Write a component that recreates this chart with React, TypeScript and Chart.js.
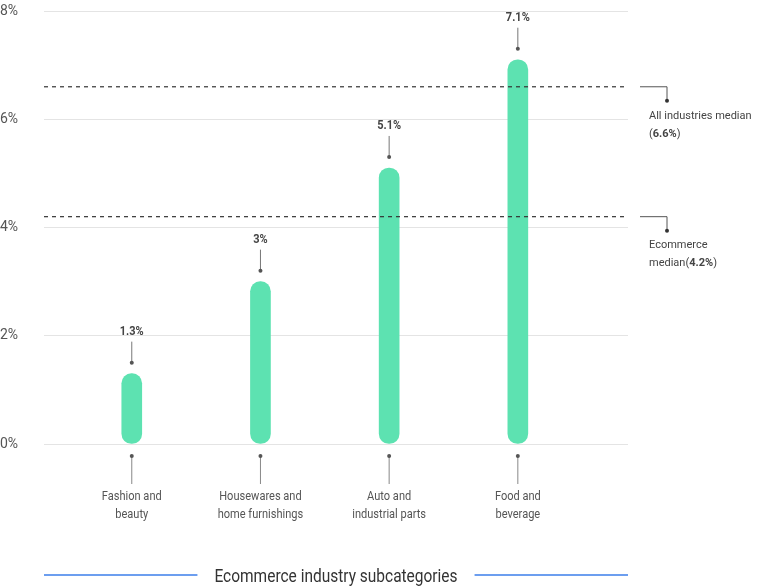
import React, { useEffect, useRef } from "react";
import { Chart, registerables } from "chart.js";

Chart.register(...registerables);

const categories: string[][] = [
  ["Fashion and", "beauty"],
  ["Housewares and", "home furnishings"],
  ["Auto and", "industrial parts"],
  ["Food and", "beverage"],
];
const values: number[] = [1.3, 3, 5.1, 7.1];
const valueLabels: string[] = ["1.3%", "3%", "5.1%", "7.1%"];
const medianValues: number[] = [6.6, 4.2];
const medianLine1: string[] = ["All industries median", "Ecommerce"];
const medianLine2Pre: string[] = ["(", "median("];
const medianLine2Bold: string[] = ["6.6%", "4.2%"];
const medianLine2Post: string[] = [")", ")"];
const yTicks: number[] = [0, 2, 4, 6, 8];
const axisTitle = "Ecommerce industry subcategories";

const FONT = "Roboto, 'Noto Sans', sans-serif";

function condensedText(ctx: CanvasRenderingContext2D, text: string, x: number, y: number, sx: number) {
  ctx.save();
  ctx.translate(x, y);
  ctx.scale(sx, 1);
  ctx.fillText(text, 0, 0);
  ctx.restore();
}

const overlayPlugin = {
  id: "overlay",
  afterDatasetsDraw(chart: any) {
    const ctx: CanvasRenderingContext2D = chart.ctx;
    const area = chart.chartArea;
    const yScale = chart.scales.y;
    const meta = chart.getDatasetMeta(0);
    ctx.save();

    meta.data.forEach((el: any, i: number) => {
      const x = el.x;
      const top = el.y;
      ctx.strokeStyle = "#777";
      ctx.lineWidth = 1;
      ctx.beginPath();
      ctx.moveTo(x, top - 32);
      ctx.lineTo(x, top - 11);
      ctx.stroke();
      ctx.fillStyle = "#555";
      ctx.beginPath();
      ctx.arc(x, top - 11, 2, 0, Math.PI * 2);
      ctx.fill();
      ctx.fillStyle = "#444";
      ctx.font = `bold 12.5px ${FONT}`;
      ctx.textAlign = "center";
      ctx.textBaseline = "middle";
      condensedText(ctx, valueLabels[i], x, top - 42, 0.88);

      const base = area.bottom;
      ctx.strokeStyle = "#888";
      ctx.beginPath();
      ctx.moveTo(x, base + 12);
      ctx.lineTo(x, base + 40);
      ctx.stroke();
      ctx.fillStyle = "#555";
      ctx.beginPath();
      ctx.arc(x, base + 12, 2, 0, Math.PI * 2);
      ctx.fill();
      ctx.fillStyle = "#555";
      ctx.font = `13px ${FONT}`;
      categories[i].forEach((line, j) => {
        condensedText(ctx, line, x, base + 53 + j * 18, 0.85);
      });
    });

    medianValues.forEach((v, i) => {
      const y = yScale.getPixelForValue(v);
      ctx.strokeStyle = "#333";
      ctx.lineWidth = 1.2;
      ctx.setLineDash([4, 4]);
      ctx.beginPath();
      ctx.moveTo(area.left, y);
      ctx.lineTo(area.right, y);
      ctx.stroke();
      ctx.setLineDash([]);
      ctx.strokeStyle = "#555";
      ctx.lineWidth = 1;
      const cx = area.right + 39;
      ctx.beginPath();
      ctx.moveTo(area.right + 12, y);
      ctx.lineTo(cx, y);
      ctx.lineTo(cx, y + 14);
      ctx.stroke();
      ctx.fillStyle = "#333";
      ctx.beginPath();
      ctx.arc(cx, y + 14, 2, 0, Math.PI * 2);
      ctx.fill();
      ctx.fillStyle = "#444";
      ctx.textAlign = "left";
      ctx.textBaseline = "middle";
      const tx = area.right + 21;
      ctx.font = `11px ${FONT}`;
      ctx.fillText(medianLine1[i], tx, y + 29);
      let px = tx;
      ctx.fillText(medianLine2Pre[i], px, y + 47);
      px += ctx.measureText(medianLine2Pre[i]).width;
      ctx.font = `bold 11px ${FONT}`;
      ctx.fillText(medianLine2Bold[i], px, y + 47);
      px += ctx.measureText(medianLine2Bold[i]).width;
      ctx.font = `11px ${FONT}`;
      ctx.fillText(medianLine2Post[i], px, y + 47);
    });

    const cxTitle = (area.left + area.right) / 2;
    const ty = 577;
    const sx = 0.86;
    ctx.font = `18px ${FONT}`;
    ctx.fillStyle = "#333";
    ctx.textAlign = "center";
    ctx.textBaseline = "middle";
    condensedText(ctx, axisTitle, cxTitle, ty, sx);
    const w = ctx.measureText(axisTitle).width * sx;
    ctx.strokeStyle = "#3d7fea";
    ctx.lineWidth = 1.6;
    ctx.beginPath();
    ctx.moveTo(area.left, ty - 2);
    ctx.lineTo(cxTitle - w / 2 - 17, ty - 2);
    ctx.moveTo(cxTitle + w / 2 + 17, ty - 2);
    ctx.lineTo(area.right, ty - 2);
    ctx.stroke();

    ctx.restore();
  },
};

export default function App() {
  const ref = useRef<HTMLCanvasElement | null>(null);
  useEffect(() => {
    document.body.style.margin = "0";
    if (!ref.current) return;
    const chart = new Chart(ref.current, {
      type: "bar",
      data: {
        datasets: [
          {
            data: values.map((v, i) => ({ x: i, y: v })),
            backgroundColor: "#5de2b1",
            borderRadius: 10,
            borderSkipped: false,
            barThickness: 20,
          } as any,
        ],
      },
      options: {
        animation: false,
        responsive: false,
        layout: { padding: { top: 11, right: 140, bottom: 143, left: 0 } },
        plugins: { legend: { display: false }, tooltip: { enabled: false } },
        scales: {
          x: {
            type: "linear",
            display: false,
            offset: false,
            min: -0.682,
            max: 3.856,
          },
          y: {
            min: 0,
            max: 8,
            afterBuildTicks: (scale: any) => {
              scale.ticks = yTicks.map((v) => ({ value: v }));
            },
            afterFit: (scale: any) => {
              scale.width = 44;
            },
            border: { display: false },
            grid: { color: "#e4e4e4", drawTicks: false, lineWidth: 1 },
            ticks: {
              crossAlign: "far",
              padding: 0,
              color: "#555",
              font: { family: FONT, size: 14 },
              callback: (v: any) => `${v}%`,
            },
          },
        },
      } as any,
      plugins: [overlayPlugin],
    });
    return () => chart.destroy();
  }, []);
  return (
    <div style={{ width: 768, height: 587 }}>
      <canvas ref={ref} width={768} height={587} />
    </div>
  );
}
